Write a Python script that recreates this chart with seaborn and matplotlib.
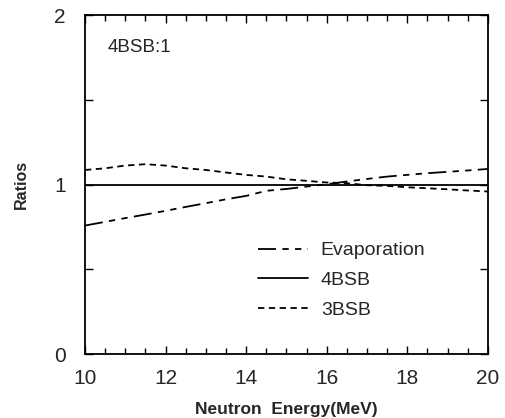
import numpy as np
import pandas as pd
import matplotlib
matplotlib.use("Agg")
import matplotlib.pyplot as plt
import seaborn as sns
from matplotlib.ticker import MultipleLocator, FixedLocator

energy = [10, 10.5, 11, 11.5, 12, 12.5, 13, 13.5, 14, 14.5, 15, 15.5, 16, 16.5, 17, 17.5, 18, 18.5, 19, 19.5, 20]
evaporation = [0.758, 0.780, 0.802, 0.823, 0.845, 0.868, 0.890, 0.913, 0.933, 0.963, 0.974, 0.988, 1.002, 1.018, 1.033, 1.047, 1.057, 1.067, 1.075, 1.083, 1.092]
bsb4 = [1.0] * 21
bsb3 = [1.086, 1.096, 1.112, 1.120, 1.112, 1.096, 1.086, 1.071, 1.057, 1.047, 1.031, 1.022, 1.012, 1.008, 0.996, 0.992, 0.984, 0.978, 0.972, 0.965, 0.959]
series_names = ["Evaporation", "4BSB", "3BSB"]
xticks = [10, 12, 14, 16, 18, 20]
yticks = [0, 1, 2]

df = pd.DataFrame({
    "Energy": energy * 3,
    "Ratio": evaporation + bsb4 + bsb3,
    "Series": [series_names[0]] * 21 + [series_names[1]] * 21 + [series_names[2]] * 21,
})

sns.set_style("ticks")
plt.rcParams['font.family'] = ['Liberation Sans', 'DejaVu Sans']

fig = plt.figure(figsize=(5.06, 4.18), dpi=100)
ax = fig.add_axes([0.168, 0.153, 0.796, 0.811])

dashes = {"Evaporation": (10, 3.5, 3.5, 3.5, 3.5, 3.5), "4BSB": "", "3BSB": (3.5, 2.5)}
sns.lineplot(data=df, x="Energy", y="Ratio", hue="Series", style="Series",
             palette={n: "black" for n in series_names}, dashes=dashes,
             linewidth=1.3, ax=ax, legend=True)

ax.set_xlim(10, 20)
ax.set_ylim(0, 2)
ax.xaxis.set_major_locator(FixedLocator(xticks))
ax.xaxis.set_minor_locator(MultipleLocator(0.5))
ax.yaxis.set_major_locator(FixedLocator(yticks))
ax.yaxis.set_minor_locator(FixedLocator([0.5, 1.0, 1.5]))
ax.set_xticklabels([str(t) for t in xticks], fontsize=15)
ax.set_yticklabels([str(t) for t in yticks], fontsize=15)
ax.tick_params(axis='both', which='major', direction='in', top=True, right=True, length=6, width=1, color='black')
ax.tick_params(axis='both', which='minor', direction='in', top=True, right=True, length=4, width=1, color='black')
ax.tick_params(axis='x', which='major', pad=11)
ax.tick_params(axis='y', which='major', pad=14)
ax.tick_params(axis='y', which='minor', length=6)
for s in ax.spines.values():
    s.set_linewidth(1.3)
    s.set_color('black')

ax.set_xlabel("Neutron  Energy(MeV)", fontsize=12.5, fontweight='bold', labelpad=10)
ax.set_ylabel("Ratios", fontsize=11.5, fontweight='bold', labelpad=18)

ax.text(0.055, 0.905, "4BSB:1", transform=ax.transAxes, fontsize=13.5, va='center', ha='left')

leg = ax.legend(loc='upper left', bbox_to_anchor=(0.385, 0.383), frameon=False,
                fontsize=14, handlelength=2.6, handletextpad=0.65, labelspacing=0.62,
                title=None)

fig.savefig("out.png", dpi=100)
